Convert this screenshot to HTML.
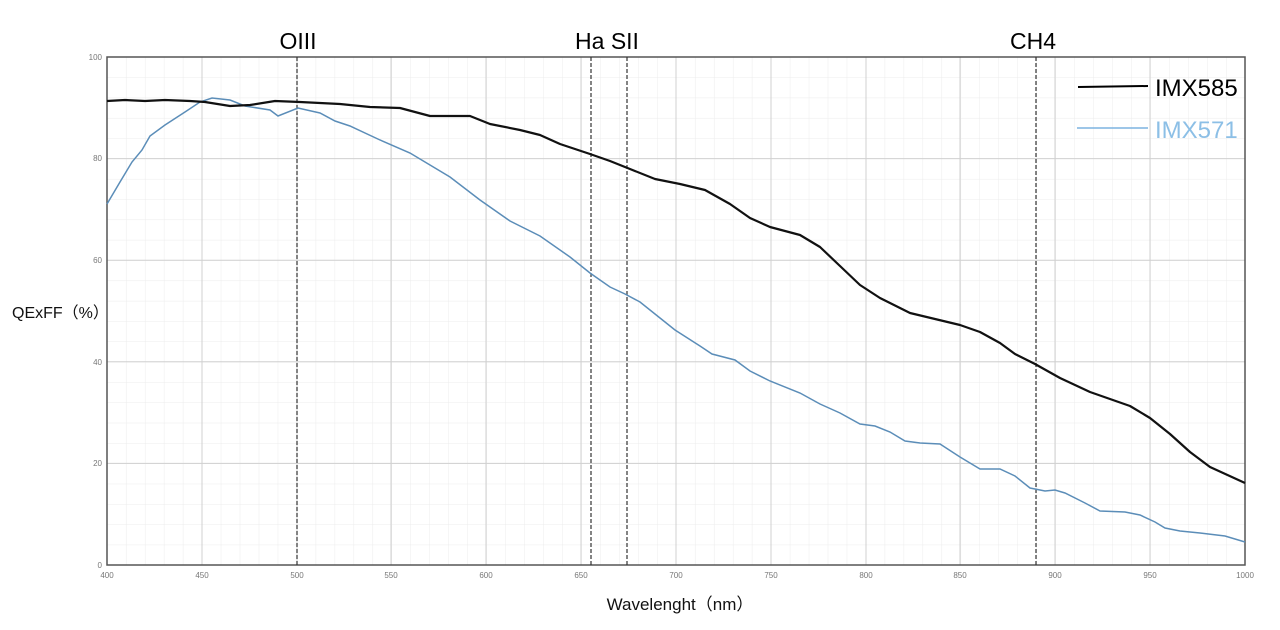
<!DOCTYPE html>
<html><head><meta charset="utf-8"><style>
body{margin:0;background:#fff;width:1280px;height:625px;overflow:hidden}
svg text{font-family:"Liberation Sans","Noto Sans CJK SC",sans-serif}
</style></head><body>
<svg width="1280" height="625" viewBox="0 0 1280 625" xmlns="http://www.w3.org/2000/svg">
<defs>
<pattern id="mg" x="107" y="57" width="18.967" height="20.32" patternUnits="userSpaceOnUse">
<path d="M0 0V20.32M0 0H18.967" stroke="#ececec" stroke-width="1" fill="none"/>
</pattern>
</defs>
<rect x="107" y="57" width="1138" height="508" fill="url(#mg)"/>
<g stroke="#d0d0d0" stroke-width="1">
<line x1="202" y1="57" x2="202" y2="565"/><line x1="297" y1="57" x2="297" y2="565"/><line x1="391" y1="57" x2="391" y2="565"/><line x1="486" y1="57" x2="486" y2="565"/><line x1="581" y1="57" x2="581" y2="565"/><line x1="676" y1="57" x2="676" y2="565"/><line x1="771" y1="57" x2="771" y2="565"/><line x1="866" y1="57" x2="866" y2="565"/><line x1="960" y1="57" x2="960" y2="565"/><line x1="1055" y1="57" x2="1055" y2="565"/><line x1="1150" y1="57" x2="1150" y2="565"/>
<line x1="107" y1="158.6" x2="1245" y2="158.6"/><line x1="107" y1="260.2" x2="1245" y2="260.2"/><line x1="107" y1="361.8" x2="1245" y2="361.8"/><line x1="107" y1="463.4" x2="1245" y2="463.4"/>
</g>
<rect x="107" y="57" width="1138" height="508" fill="none" stroke="#555" stroke-width="1.5"/>
<g stroke="#333" stroke-width="1.2" stroke-dasharray="4,2">
<line x1="297" y1="57" x2="297" y2="565"/><line x1="591" y1="57" x2="591" y2="565"/><line x1="627" y1="57" x2="627" y2="565"/><line x1="1036" y1="57" x2="1036" y2="565"/>
</g>
<polyline fill="none" stroke="#5b8db8" stroke-width="1.5" points="107,204 120,182 132,162 142,150 150,136 165,125 185,112 200,102 212,98 230,100 245,106 270,110 278,116 298,108 320,113 335,121 350,126 380,140 410,153 450,177 480,200 510,221 540,236 570,257 590,273 610,287 625,294 640,302 660,318 675,330 700,346 712,354 735,360 750,371 770,381 800,393 820,404 840,413 860,424 875,426 890,432 905,441 920,443 940,444 960,457 980,469 1000,469 1015,476 1030,488 1045,491 1055,490 1065,493 1085,503 1100,511 1125,512 1140,515 1155,522 1165,528 1180,531 1200,533 1225,536 1245,542"/>
<polyline fill="none" stroke="#111" stroke-width="2.2" stroke-linejoin="round" points="107,101 125,100 145,101 165,100 190,101 205,102 230,106 250,105 275,101 300,102 340,104 370,107 400,108 430,116 450,116 470,116 490,124 520,130 540,135 560,144 590,154 610,161 630,169 655,179 680,184 705,190 730,204 750,218 770,227 800,235 820,247 840,266 860,285 880,298 910,313 935,319 960,325 980,332 1000,343 1015,354 1035,364 1060,378 1090,392 1110,399 1130,406 1150,418 1170,434 1190,452 1210,467 1245,483"/>
<g font-size="8" fill="#777" text-anchor="end">
<text x="102" y="60">100</text><text x="102" y="161">80</text><text x="102" y="263">60</text><text x="102" y="365">40</text><text x="102" y="466">20</text><text x="102" y="568">0</text>
</g>
<g font-size="8" fill="#777" text-anchor="middle">
<text x="107" y="578">400</text><text x="202" y="578">450</text><text x="297" y="578">500</text><text x="391" y="578">550</text><text x="486" y="578">600</text><text x="581" y="578">650</text><text x="676" y="578">700</text><text x="771" y="578">750</text><text x="866" y="578">800</text><text x="960" y="578">850</text><text x="1055" y="578">900</text><text x="1150" y="578">950</text><text x="1245" y="578">1000</text>
</g>
<g font-size="23" fill="#000" text-anchor="middle">
<text x="298" y="49">OIII</text><text x="607" y="49">Ha SII</text><text x="1033" y="49">CH4</text>
</g>
<line x1="1078" y1="87" x2="1148" y2="86" stroke="#000" stroke-width="2"/>
<text x="1155" y="96" font-size="24" fill="#000">IMX585</text>
<line x1="1077" y1="128" x2="1148" y2="128" stroke="#7db3e0" stroke-width="1.5"/>
<text x="1155" y="138" font-size="24" fill="#8cbfe6">IMX571</text>
<text x="12" y="318" font-size="16" fill="#111">QExFF（%）</text>
<text x="680" y="610" font-size="17" fill="#111" text-anchor="middle">Wavelenght（nm）</text>
</svg>
</body></html>
